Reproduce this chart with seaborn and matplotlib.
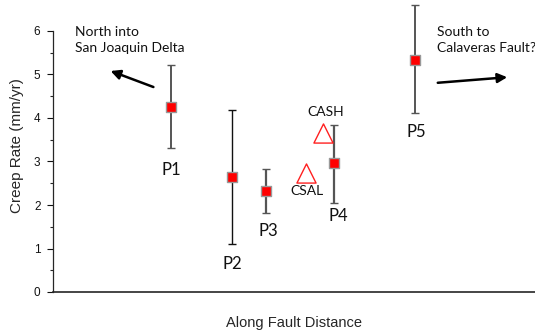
import matplotlib
matplotlib.use("Agg")
import matplotlib.pyplot as plt
import seaborn as sns
import pandas as pd
from matplotlib.ticker import FixedLocator

sites = ["P1", "P2", "P3", "P4", "P5"]
site_x = [24.5, 37.1, 44.2, 58.3, 75.1]
rate = [4.25, 2.64, 2.32, 2.97, 5.33]
err_low = [3.31, 1.10, 1.82, 2.05, 4.11]
err_high = [5.22, 4.18, 2.83, 3.84, 6.60]

alt_sites = ["CSAL", "CASH"]
alt_x = [52.5, 56.0]
alt_rate = [2.73, 3.65]

yticks = [0, 1, 2, 3, 4, 5, 6]
yminor = [0.5, 1.5, 2.5, 3.5, 4.5, 5.5]

sns.set_style("ticks")
plt.rcParams['font.family'] = ['Liberation Sans', 'DejaVu Sans']

fig = plt.figure(figsize=(5.35, 3.34), dpi=100)
ax = fig.add_axes([53/535, 42/334, 1 - 53/535, 292/334])

df = pd.DataFrame({"x": site_x, "rate": rate, "lo": err_low, "hi": err_high, "site": sites})
alt = pd.DataFrame({"x": alt_x, "rate": alt_rate, "site": alt_sites})

bar_colors = ["#555555", "#111111", "#555555", "#555555", "#555555"]
bar_lw = [1.4, 1.0, 1.6, 1.6, 1.4]
for i, r in df.iterrows():
    ax.errorbar(r.x, r.rate, yerr=[[r.rate - r.lo], [r.hi - r.rate]], fmt="none",
                ecolor=bar_colors[i], elinewidth=bar_lw[i], capsize=3, capthick=1.0, zorder=2)

sns.scatterplot(data=df, x="x", y="rate", marker="s", s=62, color="#ff0000",
                edgecolor="#999999", linewidth=1.0, ax=ax, zorder=3, legend=False)
sns.scatterplot(data=alt, x="x", y="rate", marker="^", s=190, facecolor="white",
                edgecolor="#ff2020", linewidth=1.0, ax=ax, zorder=3, legend=False)

lab_font = ['Lato', 'DejaVu Sans']

def px2data(px, py):
    return (px - 53) / 4.82, (292 - py) / 43.5

label_pos = {"P1": (171, 170), "P2": (232, 264), "P3": (268, 231), "P4": (338, 216), "P5": (416, 132)}
for s in sites:
    dx, dy = px2data(*label_pos[s])
    ax.text(dx, dy, s, ha="center", va="center", fontsize=12, family=lab_font, color="#111111")

alt_label_pos = {"CSAL": (307, 191), "CASH": (326, 112)}
for s in alt_sites:
    dx, dy = px2data(*alt_label_pos[s])
    ax.text(dx, dy, s, ha="center", va="center", fontsize=10, family=lab_font, color="#111111")

tx, ty = px2data(75, 40)
ax.text(tx, ty, "North into\nSan Joaquin Delta", ha="left", va="center", fontsize=10,
        family=lab_font, linespacing=1.3, color="#111111")
tx, ty = px2data(437, 40)
ax.text(tx, ty, "South to\nCalaveras Fault?", ha="left", va="center", fontsize=10,
        family=lab_font, linespacing=1.3, color="#111111")

ax.annotate("", xy=px2data(108, 70), xytext=px2data(156, 88),
            arrowprops=dict(arrowstyle="-|>", color="black", lw=1.8, mutation_scale=14))
ax.annotate("", xy=px2data(510, 77), xytext=px2data(435, 83),
            arrowprops=dict(arrowstyle="-|>", color="black", lw=1.8, mutation_scale=14))

ax.set_xlim(0, 100)
ax.set_ylim(0, 292 / 43.5)
ax.set_xticks([])
ax.set_yticks(yticks)
ax.yaxis.set_minor_locator(FixedLocator(yminor))
ax.tick_params(axis="y", which="major", length=4, width=0.8, labelsize=8.5, pad=5, colors="#111111")
ax.tick_params(axis="y", which="minor", length=2, width=0.8)
sns.despine(ax=ax, top=True, right=True)
ax.spines["left"].set_bounds(0, 6)
ax.spines["left"].set_linewidth(0.9)
ax.spines["bottom"].set_linewidth(1.2)
ax.set_ylabel("Creep Rate (mm/yr)", fontsize=11, labelpad=7)
ax.set_xlabel("Along Fault Distance", fontsize=10.5, labelpad=17)

fig.savefig("out.png", dpi=100)
